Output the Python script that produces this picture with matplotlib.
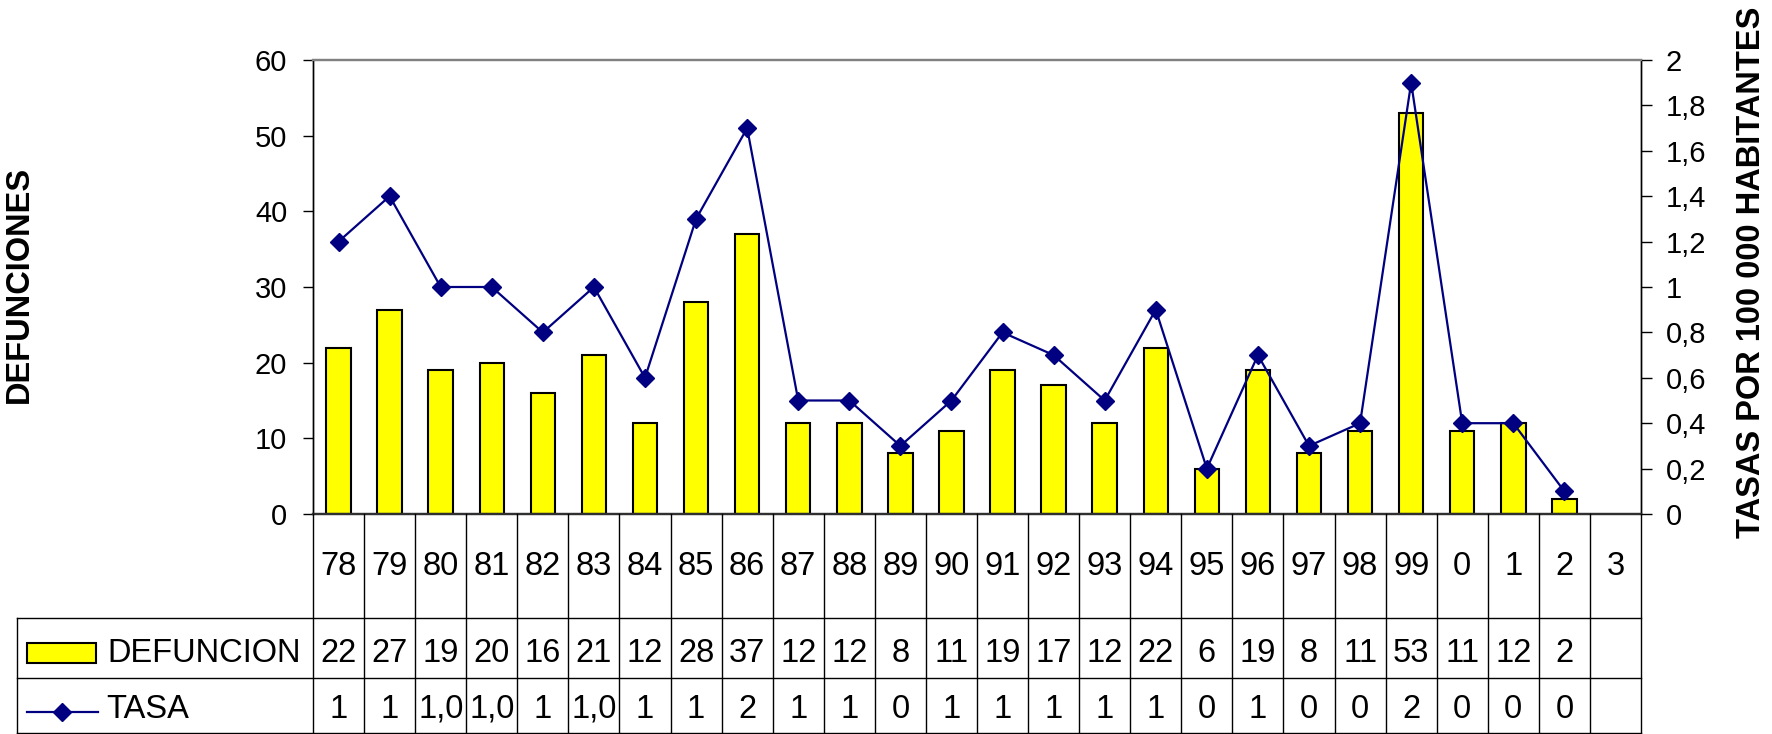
import matplotlib
matplotlib.use("Agg")
import matplotlib.pyplot as plt
from matplotlib.patches import Rectangle

plt.rcParams['font.family'] = ['Liberation Sans', 'DejaVu Sans']

# data
years = ["78", "79", "80", "81", "82", "83", "84", "85", "86", "87", "88", "89", "90",
         "91", "92", "93", "94", "95", "96", "97", "98", "99", "0", "1", "2", "3"]
defunciones = [22, 27, 19, 20, 16, 21, 12, 28, 37, 12, 12, 8, 11,
               19, 17, 12, 22, 6, 19, 8, 11, 53, 11, 12, 2]
tasa = [1.2, 1.4, 1.0, 1.0, 0.8, 1.0, 0.6, 1.3, 1.7, 0.5, 0.5, 0.3, 0.5,
        0.8, 0.7, 0.5, 0.9, 0.2, 0.7, 0.3, 0.4, 1.9, 0.4, 0.4, 0.1]
tasa_labels = ["1", "1", "1,0", "1,0", "1", "1,0", "1", "1", "2", "1", "1", "0", "1",
               "1", "1", "1", "1", "0", "1", "0", "0", "2", "0", "0", "0"]
left_ticks = [0, 10, 20, 30, 40, 50, 60]
right_ticks = [0, 0.2, 0.4, 0.6, 0.8, 1.0, 1.2, 1.4, 1.6, 1.8, 2.0]

YELLOW = "#FFFF00"
NAVY = "#000080"

# layout in pixels of the 1772x734 canvas
W, H = 1772, 734
L, R, T, B = 313, 1641, 60, 514
LEG_L = 17
ROW1, ROW2, ROW3 = 618, 678, 733

fig = plt.figure(figsize=(W / 100, H / 100), dpi=100)
ax = fig.add_axes([L / W, 1 - B / H, (R - L) / W, (B - T) / H])
ax2 = ax.twinx()

x = list(range(len(defunciones)))
ax.bar(x, defunciones, width=0.48, color=YELLOW, edgecolor="black", linewidth=1.5, zorder=2)
ax2.plot(x, tasa, color=NAVY, lw=1.6, marker="D", ms=9.5, mfc=NAVY, mec=NAVY, zorder=3)

n = len(years)
ax.set_xlim(-0.5, n - 0.5)
ax.set_ylim(0, 60)
ax2.set_ylim(0, 2)
ax.set_xticks([])
ax.set_yticks(left_ticks)
ax.set_yticklabels([str(v) for v in left_ticks])
ax2.set_yticks(right_ticks)
ax2.set_yticklabels([f"{v:g}".replace(".", ",") for v in right_ticks])
ax.tick_params(axis="y", direction="out", length=7.5, width=1, labelsize=21, pad=11)
ax2.tick_params(axis="y", direction="out", length=8, width=1, labelsize=21, pad=10)

for a in (ax, ax2):
    a.spines["top"].set_color("#808080")
    a.spines["top"].set_linewidth(1.6)
    a.spines["bottom"].set_color("#303030")
    a.spines["bottom"].set_linewidth(1.6)
    a.spines["left"].set_linewidth(1)
    a.spines["right"].set_linewidth(1)
ax.set_zorder(ax2.get_zorder() - 1)
ax2.patch.set_visible(False)

# data table under the plot
colw = (R - L) / n
x0 = -0.5 - (L - LEG_L) / colw
tab = fig.add_axes([LEG_L / W, 1 - ROW3 / H, (R - LEG_L) / W, (ROW3 - B) / H])
tab.set_xlim(x0, n - 0.5)
tab.set_ylim(ROW3, B)
tab.axis("off")


def px2x(px):
    return x0 + (px - LEG_L) / colw


for k in range(n + 1):
    tab.plot([k - 0.5, k - 0.5], [B, ROW3], color="black", lw=1, clip_on=False)
tab.plot([x0, x0], [ROW1, ROW3], color="black", lw=1, clip_on=False)
for yy in (ROW1, ROW2, ROW3):
    tab.plot([x0, n - 0.5], [yy, yy], color="black", lw=1, clip_on=False)

for i, yr in enumerate(years):
    tab.text(i, 575, yr, ha="center", va="baseline", fontsize=23.5)
for i, v in enumerate(defunciones):
    tab.text(i, 662, str(v), ha="center", va="baseline", fontsize=23.5)
for i, s in enumerate(tasa_labels):
    tab.text(i, 718, s, ha="center", va="baseline", fontsize=23.5)

# legend keys
tab.add_patch(Rectangle((px2x(27), 643), px2x(96) - px2x(27), 20,
                        facecolor=YELLOW, edgecolor="black", lw=1.5))
tab.plot([px2x(27), px2x(98)], [712, 712], color=NAVY, lw=1.6)
tab.plot([px2x(62)], [712], marker="D", ms=9.5, color=NAVY)
tab.text(px2x(107), 662, "DEFUNCION", ha="left", va="baseline", fontsize=23.5)
tab.text(px2x(106), 718, "TASA", ha="left", va="baseline", fontsize=23.5)

# axis titles
fig.text(19 / W, 1 - 284 / H, "DEFUNCIONES", rotation=90, ha="center", va="center",
         fontsize=23.5, fontweight="bold")
fig.text(1752 / W, 1 - 272 / H, "TASAS POR 100 000 HABITANTES", rotation=90,
         ha="center", va="center", fontsize=23.5, fontweight="bold")

fig.savefig("out.png", dpi=100)
